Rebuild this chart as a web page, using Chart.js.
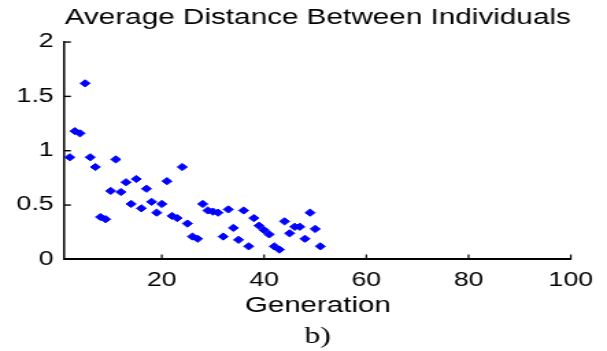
<!DOCTYPE html>
<html>
<head>
<meta charset="utf-8">
<script src="https://cdn.jsdelivr.net/npm/chart.js@4/dist/chart.umd.min.js"></script>
<style>
  html, body { margin: 0; padding: 0; background: #fff; overflow: hidden; }
  #wrap { position: absolute; left: 0; top: 0; width: 443px; height: 351px; transform: scaleX(1.3702); transform-origin: 0 0; }
</style>
</head>
<body>
<div id="wrap"><canvas id="c" width="443" height="351"></canvas></div>
<script>
const chartTitle = "Average Distance Between Individuals";
const xAxisTitle = "Generation";
const captionText = "b)";
const generations = [2,3,4,5,6,7,8,9,10,11,12,13,14,15,16,17,18,19,20,21,22,23,24,25,26,27,28,29,30,31,32,33,34,35,36,37,38,39,40,41,42,43,44,45,46,47,48,49,50,51];
const avgDistance = [0.94,1.18,1.16,1.62,0.94,0.85,0.39,0.37,0.63,0.92,0.62,0.71,0.51,0.74,0.47,0.65,0.53,0.43,0.51,0.72,0.40,0.38,0.85,0.33,0.21,0.19,0.51,0.45,0.44,0.43,0.21,0.46,0.29,0.18,0.45,0.12,0.38,0.31,0.27,0.23,0.12,0.09,0.35,0.24,0.30,0.30,0.19,0.43,0.28,0.12];
const xTicks = [20,40,60,80,100];
const yTicks = [0,0.5,1,1.5,2];

const inwardTicks = {
  id: 'inwardTicks',
  afterDraw(chart) {
    const {ctx, chartArea, scales} = chart;
    ctx.save();
    ctx.strokeStyle = '#000';
    ctx.lineWidth = 1.4;
    yTicks.forEach(v => {
      if (v === 0) return;
      const py = scales.y.getPixelForValue(v);
      ctx.beginPath(); ctx.moveTo(chartArea.left, py); ctx.lineTo(chartArea.left + 4.5, py); ctx.stroke();
    });
    ctx.lineWidth = 1.2;
    xTicks.forEach(v => {
      const px = scales.x.getPixelForValue(v);
      ctx.beginPath(); ctx.moveTo(px, chartArea.bottom); ctx.lineTo(px, chartArea.bottom - 5); ctx.stroke();
    });
    ctx.restore();
  }
};

new Chart(document.getElementById('c'), {
  type: 'scatter',
  data: {
    datasets: [{
      data: generations.map((g, i) => ({x: g, y: avgDistance[i]})),
      pointStyle: 'rectRot',
      pointRadius: 3.6,
      pointHoverRadius: 3.6,
      backgroundColor: '#0000ff',
      borderColor: '#0000ff',
      borderWidth: 1
    }]
  },
  options: {
    responsive: false,
    animation: false,
    devicePixelRatio: 1,
    layout: { padding: { left: 0, right: 26.4, top: 0, bottom: 0 } },
    plugins: {
      legend: { display: false },
      tooltip: { enabled: false },
      title: {
        display: true, text: chartTitle, color: '#000', fullSize: false,
        font: { family: 'Liberation Sans, Arial, sans-serif', size: 21.7, weight: 'normal' },
        padding: { top: 4.6, bottom: 11.4 }
      },
      subtitle: {
        display: true, text: captionText, position: 'bottom', color: '#000', fullSize: false,
        font: { family: 'Liberation Serif, Times New Roman, serif', size: 23, weight: 'normal' },
        padding: { top: 4.5, bottom: 0 }
      }
    },
    scales: {
      x: {
        type: 'linear', min: 1, max: 100,
        afterBuildTicks: s => { s.ticks = xTicks.map(v => ({value: v})); },
        afterFit: s => { s.height = 59.5; },
        grid: { display: false, drawTicks: false },
        border: { display: true, color: '#000', width: 2 },
        ticks: { autoSkip: false, maxRotation: 0, padding: 10, color: '#000',
                 callback: v => String(v),
                 font: { family: 'Liberation Sans, Arial, sans-serif', size: 19.5 } },
        title: { display: true, text: xAxisTitle, color: '#000', padding: { top: 0, bottom: 0 },
                 font: { family: 'Liberation Sans, Arial, sans-serif', size: 21.5 } }
      },
      y: {
        type: 'linear', min: 0, max: 2,
        afterBuildTicks: s => { s.ticks = yTicks.map(v => ({value: v})); },
        afterFit: s => { s.width = 47.2; },
        grid: { display: false, drawTicks: false },
        border: { display: true, color: '#000', width: 1.5 },
        ticks: { autoSkip: false, padding: 8, color: '#000',
                 callback: v => String(v),
                 font: { family: 'Liberation Sans, Arial, sans-serif', size: 19.5 } }
      }
    }
  },
  plugins: [inwardTicks]
});
</script>
</body>
</html>
